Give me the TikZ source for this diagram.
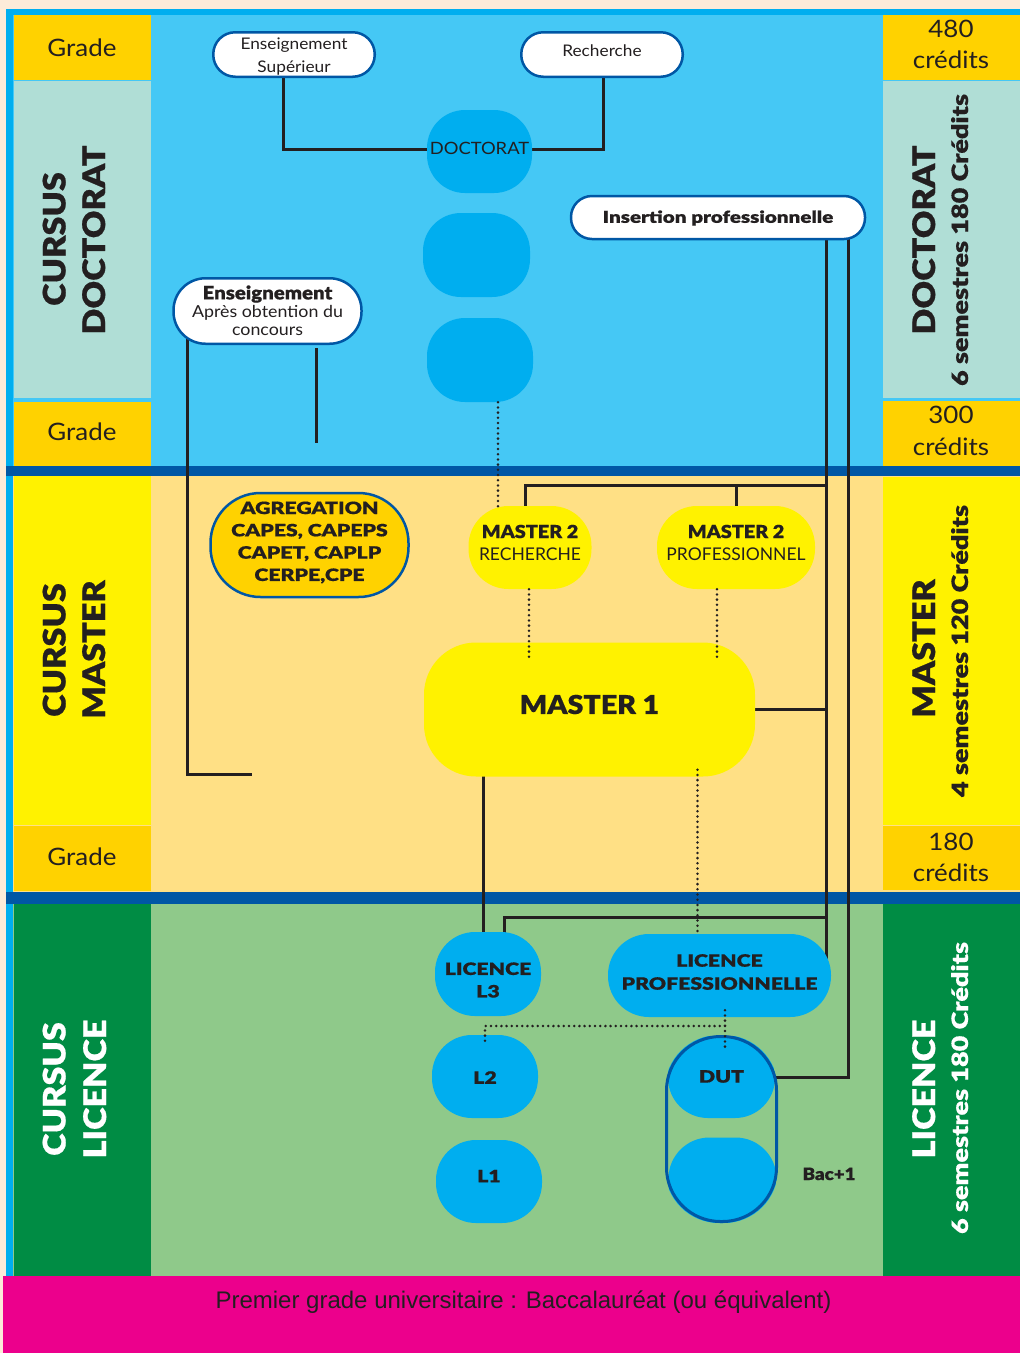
\documentclass[tikz,border=0pt]{standalone}
\usepackage{fontspec}
\setmainfont{Lato}
\IfFontExistsTF{Lato Black}{%
  \newfontfamily\hv{Lato Black}[FakeStretch=1.1,FakeBold=0.6]%
  \newfontfamily\hvw{Lato Black}[FakeStretch=1.25,FakeBold=0.6]%
  \newfontfamily\hvx{Lato Black}[FakeStretch=1.2,FakeBold=0.4]}{%
  \newfontfamily\hv{Lato}[UprightFont={* Bold},FakeStretch=1.1,FakeBold=1]%
  \newfontfamily\hvw{Lato}[UprightFont={* Bold},FakeStretch=1.25,FakeBold=1]%
  \newfontfamily\hvx{Lato}[UprightFont={* Bold},FakeStretch=1.2,FakeBold=0.8]}
\newfontfamily\rgw{Lato}[FakeStretch=1.08]
\newfontfamily\arl{Liberation Sans}
\usetikzlibrary{calc}
\pgfdeclarelayer{bgl}
\pgfdeclarelayer{lines}
\pgfdeclarelayer{blobs}
\pgfsetlayers{bgl,lines,blobs,main}
\definecolor{peach}{HTML}{FCEBD9}
\definecolor{framec}{HTML}{00AEEF}
\definecolor{docbg}{HTML}{45C8F5}
\definecolor{blobc}{HTML}{00AEEF}
\definecolor{gradeY}{HTML}{FFD200}
\definecolor{mint}{HTML}{B0DED6}
\definecolor{dblue}{HTML}{0057A5}
\definecolor{masbg}{HTML}{FFE085}
\definecolor{masY}{HTML}{FFF200}
\definecolor{licbg}{HTML}{8FC98A}
\definecolor{dgreen}{HTML}{008C44}
\definecolor{pinkc}{HTML}{EC008C}
\definecolor{ink}{HTML}{231F20}
\begin{document}
\begin{tikzpicture}[x=1pt,y=-1pt,
  blob/.style={rectangle, fill=blobc, inner sep=0pt, rounded corners=38pt},
  pill/.style={rectangle, draw=dblue, line width=2.5pt, fill=white, inner sep=0pt},
  conn/.style={draw=ink, line width=3pt},
  dots/.style={draw=ink, line width=2.8pt, line cap=round, dash pattern=on 0pt off 5.2pt},
  lbl/.style={inner sep=0pt, align=center, text=ink},
  side/.style={rotate=90, anchor=base, inner sep=0pt, text=ink},
  cell/.style={anchor=base, inner sep=0pt, text=ink, font=\rgw\fontsize{24}{24}\selectfont}]
\useasboundingbox (0,0) rectangle (1020,1353);
\begin{pgfonlayer}{bgl}
\fill[peach] (0,0) rectangle (1020,1353);
\fill[framec] (6,9) rectangle (1020,1276);
\fill[docbg] (13,15) rectangle (1020,466);
\fill[dblue] (6,466) rectangle (1020,476);
\fill[masbg] (13,476) rectangle (1020,892);
\fill[dblue] (6,892) rectangle (1020,904);
\fill[licbg] (13,904) rectangle (1020,1276);
\fill[pinkc] (3,1276) rectangle (1020,1353);
% left column
\fill[gradeY] (14,15) rectangle (151,80);
\fill[mint] (14,81) rectangle (151,398);
\fill[gradeY] (14,402) rectangle (151,466);
\fill[masY] (14,476) rectangle (151,825);
\fill[gradeY] (14,826) rectangle (151,891);
\fill[dgreen] (14,904) rectangle (151,1276);
% right column
\fill[gradeY] (883,15) rectangle (1020,80);
\fill[mint] (883,81) rectangle (1020,398);
\fill[gradeY] (883,401) rectangle (1020,466);
\fill[masY] (883,477) rectangle (1020,825);
\fill[gradeY] (883,826) rectangle (1020,890);
\fill[dgreen] (883,904) rectangle (1020,1276);
\end{pgfonlayer}

% column texts
\node[cell] (g1) at (82,56) {Grade};
\node[cell] (g2) at (82,440) {Grade};
\node[cell] (g3) at (82,865) {Grade};
\node[cell] (c480) at (951,37) {480};
\node[cell] (c480b) at (951,68) {crédits};
\node[cell] (c300) at (951,423) {300};
\node[cell] (c300b) at (951,455) {crédits};
\node[cell] (c180) at (951,850) {180};
\node[cell] (c180b) at (951,881) {crédits};

\node[side, font=\hv\fontsize{31}{31}\selectfont] (cd1) at (65.5,239) {CURSUS};
\node[side, font=\hv\fontsize{31}{31}\selectfont] (cd2) at (105,240) {DOCTORAT};
\node[side, font=\hv\fontsize{31}{31}\selectfont] (cm1) at (65.5,650) {CURSUS};
\node[side, font=\hv\fontsize{31}{31}\selectfont] (cm2) at (105,649.5) {MASTER};
\node[side, font=\hv\fontsize{31}{31}\selectfont, text=white] (cl1) at (65.5,1089) {CURSUS};
\node[side, font=\hv\fontsize{31}{31}\selectfont, text=white] (cl2) at (106,1089) {LICENCE};

\node[side, font=\hv\fontsize{31}{31}\selectfont] (rd1) at (935,240) {DOCTORAT};
\node[side, font=\hvx\fontsize{22.5}{22.5}\selectfont] (rd2) at (968,240) {6 semestres 180 Crédits};
\node[side, font=\hv\fontsize{31}{31}\selectfont] (rm1) at (935,648.5) {MASTER};
\node[side, font=\hvx\fontsize{22.5}{22.5}\selectfont] (rm2) at (968,651) {4 semestres 120 Crédits};
\node[side, font=\hv\fontsize{31}{31}\selectfont, text=white] (rl1) at (935,1089) {LICENCE};
\node[side, font=\hvx\fontsize{22.5}{22.5}\selectfont, text=white] (rl2) at (968,1088) {6 semestres 180 Crédits};

% white pills
\node[pill, minimum width=161.5pt, minimum height=44.5pt, rounded corners=22pt,
  label={[lbl, font=\rgw\fontsize{16}{22.5}\selectfont, yshift=-2pt]center:{Enseignement\\Supérieur}}] (ensup) at (294,54.5) {};
\node[pill, minimum width=161.5pt, minimum height=44.5pt, rounded corners=22pt,
  label={[lbl, font=\rgw\fontsize{16}{18}\selectfont, yshift=3.5pt]center:Recherche}] (rech) at (602,54.5) {};
\node[pill, minimum width=294pt, minimum height=43pt, rounded corners=21pt,
  label={[lbl, font=\hvw\fontsize{16.5}{20}\selectfont, yshift=-0.5pt]center:Insertion professionnelle}] (ins) at (718,217.5) {};
\node[pill, minimum width=188pt, minimum height=65.5pt, rounded corners=32pt,
  label={[lbl, font=\rgw\fontsize{16.5}{18}\selectfont, yshift=0.5pt]center:{{\hv\fontsize{18.5}{18}\selectfont Enseignement}\\Après obtention du\\concours}}] (enscon) at (267.5,311) {};
\node[pill, fill=gradeY, minimum width=198pt, minimum height=104pt, rounded corners=50pt,
  label={[lbl, font=\hvw\fontsize{17}{22.3}\selectfont, yshift=2.5pt]center:{AGREGATION\\CAPES, CAPEPS\\CAPET, CAPLP\\CERPE,CPE}}] (agr) at (309.5,545) {};

% doctorat blobs
\node[blob, minimum width=105pt, minimum height=83pt,
  label={[lbl, font=\rgw\fontsize{17}{20}\selectfont, yshift=3.5pt]center:DOCTORAT}] (doc) at (479.5,151.5) {};
\node[blob, minimum width=107pt, minimum height=84pt] (b2) at (476.5,255) {};
\node[blob, minimum width=106pt, minimum height=84pt] (b3) at (480,360) {};

% master
\node[blob, fill=masY, minimum width=123pt, minimum height=83pt, rounded corners=40pt,
  label={[lbl, font=\fontsize{17.5}{22}\selectfont, yshift=5pt]center:{{\hv\fontsize{18}{22}\selectfont MASTER 2}\\RECHERCHE}}] (m2r) at (530,547.5) {};
\node[blob, fill=masY, minimum width=158pt, minimum height=83pt, rounded corners=40pt,
  label={[lbl, font=\fontsize{17.5}{22}\selectfont, yshift=5pt]center:{{\hv\fontsize{18}{22}\selectfont MASTER 2}\\PROFESSIONNEL}}] (m2p) at (736,547.5) {};
\node[blob, fill=masY, minimum width=331pt, minimum height=134pt, rounded corners=52pt,
  label={[lbl, font=\hv\fontsize{26}{30}\selectfont, yshift=5pt]center:MASTER 1}] (m1) at (589.5,709.5) {};

% licence
\node[blob, minimum width=106pt, minimum height=84pt, rounded corners=40pt,
  label={[lbl, font=\hvw\fontsize{17}{22.5}\selectfont, yshift=-6pt]center:{LICENCE\\L3}}] (l3) at (488,974) {};
\node[blob, minimum width=223pt, minimum height=83pt, rounded corners=41pt,
  label={[lbl, font=\hvw\fontsize{17}{23}\selectfont, yshift=3.5pt]center:{LICENCE\\PROFESSIONNELLE}}] (lp) at (719.5,975.5) {};
\node[blob, minimum width=106pt, minimum height=83pt, rounded corners=40pt,
  label={[lbl, font=\hvw\fontsize{17}{20}\selectfont, yshift=-1pt]center:L2}] (l2) at (485,1076.5) {};
\node[blob, minimum width=106pt, minimum height=83pt, rounded corners=40pt,
  label={[lbl, font=\hvw\fontsize{17}{20}\selectfont, yshift=5.5pt]center:L1}] (l1) at (489,1181.5) {};

% DUT group: outline on top, blobs clipped to it
\node[rectangle, draw=dblue, line width=3pt, minimum width=110pt, minimum height=185pt, rounded corners=54pt, inner sep=0pt] (dutbox) at (721.5,1129) {};
\begin{pgfonlayer}{blobs}
\begin{scope}
\clip[rounded corners=54pt] (dutbox.north west) rectangle (dutbox.south east);
\node[blob, minimum width=107pt, minimum height=82pt, rounded corners=40pt,
  label={[lbl, font=\hvw\fontsize{17}{20}\selectfont, yshift=0.5pt]center:DUT}] (dut) at (721.5,1077) {};
\node[blob, minimum width=108pt, minimum height=87pt, rounded corners=41pt] (b5) at (722.5,1181) {};
\end{scope}
\end{pgfonlayer}
\node[anchor=base, inner sep=0pt, text=ink, font=\hv\fontsize{17}{17}\selectfont] (bac1) at (829,1180) {Bac+1};

\node[anchor=base, inner sep=0pt, text=ink, font=\arl\fontsize{24}{24}\selectfont] (bacc) at (523.5,1308) {Premier grade universitaire : Baccalauréat (ou équivalent)};

% junction coordinates
\coordinate (busA) at ($(ins.center)+(108,0)$);
\coordinate (busB) at ($(ins.center)+(130,0)$);
\coordinate (jA) at (826,485);
\coordinate (jB) at (826,917);
\coordinate (jC) at (725,1026);
\coordinate (ensEnd) at (252,774);
\coordinate (ensEnd2) at (316,443);
\coordinate (l3a) at ($(l3.center)+(-5,0)$);

\begin{pgfonlayer}{lines}
\draw[conn] ($(ensup.center)+(-11,0)$) |- ($(doc.west)+(0,-2.5)$);
\draw[conn] ($(rech.center)+(1,0)$) |- ($(doc.east)+(0,-2.5)$);
\draw[conn] ($(enscon.center)+(-80.5,0)$) |- (ensEnd);
\draw[conn] ($(enscon.south)+(48.5,3)$) -- (ensEnd2);
\draw[conn] (busA) -- (busA |- lp.center);
\draw[conn] (busB) |- (dut.center);
\draw[conn] ($(m2r.center)+(-5,0)$) |- (jA);
\draw[conn] (m2p.center) -- (m2p.center |- jA);
\draw[conn] (m1.center) -- (m1.center -| jA);
\draw[conn] ($(l3.center)+(16,0)$) |- (jB);
\draw[conn] (l3a) -- (l3a |- m1.center);
\end{pgfonlayer}

% dotted links
\draw[dots] ($(b3.south)+(18,0)$) -- ($(m2r.north)+(-32,4)$);
\draw[dots] ($(m2r.south)+(-1,0)$) -- ($(m1.north)+(-60.5,18)$);
\draw[dots] ($(m2p.south)+(-19,0)$) -- ($(m1.north)+(127.5,18)$);
\draw[dots] ($(m1.south)+(108,-7)$) -- ($(lp.north)+(-22,0)$);
\draw[dots] ($(lp.south)+(5.5,-7)$) -- ($(dut.north)+(3.5,13)$);
\draw[dots] (jC) -| ($(l2.north)+(0,9)$);
\end{tikzpicture}
\end{document}
